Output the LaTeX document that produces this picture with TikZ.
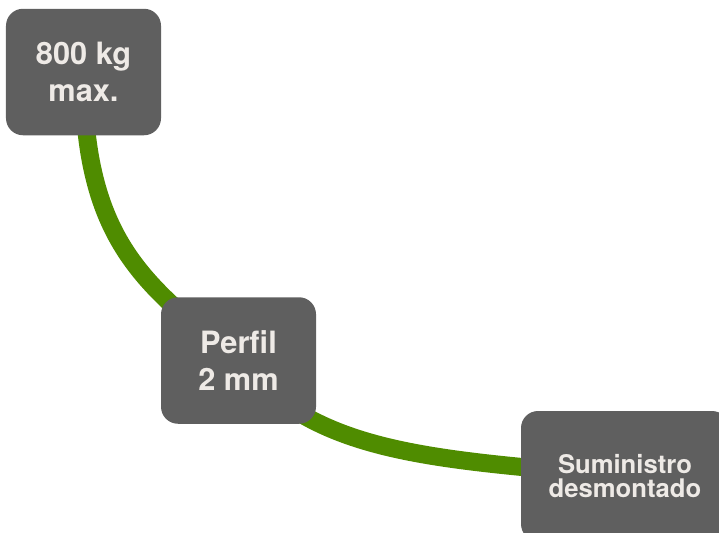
\documentclass[tikz,border=0pt]{standalone}
\usepackage{fontspec}
\setmainfont{TeX Gyre Heros}
\usetikzlibrary{backgrounds}

\definecolor{boxgray}{HTML}{5F5F5F}
\definecolor{leafgreen}{HTML}{4F8C00}
\definecolor{labelwhite}{HTML}{EEEAE6}

\begin{document}
\begin{tikzpicture}[
    tag/.style={fill=boxgray,rounded corners=0.34cm,text=labelwhite,align=center,
      minimum width=3.1cm,minimum height=2.53cm,inner sep=0pt,
      font=\fontsize{17.5}{21.5}\selectfont\bfseries},
    smalltag/.style={tag,minimum width=4.16cm,minimum height=2.6cm,
      font=\fontsize{14.6}{14}\selectfont\bfseries},
    stem/.style={draw=leafgreen,line width=0.36cm}
  ]
  \useasboundingbox (0,0) rectangle (14.38,-10.64);

  % the three labels
  \node[tag] (load) at (1.67,-1.44) {800 kg\\max.};
  \node[tag] (profile) at (4.77,-7.21) {Perfil\\2 mm};
  \node[smalltag] (supply) at (12.5,-9.52) {Suministro\\desmontado};

  % green stem behind them
  \begin{scope}[on background layer]
    \draw[stem](load.center) .. controls +(0,-3.4) and +(-1.87,1.51) .. (profile.center);
    \draw[stem](profile.center) .. controls +(1.54,-1.85) and +(-4.0,0.34) .. (supply.center);
  \end{scope}
\end{tikzpicture}
\end{document}
